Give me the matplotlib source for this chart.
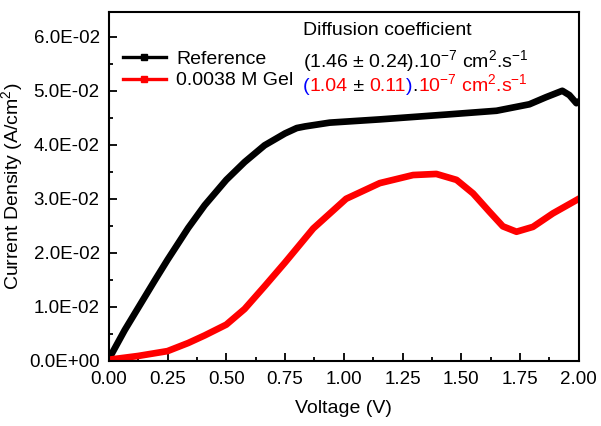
import matplotlib
matplotlib.use("Agg")
import matplotlib.pyplot as plt
from matplotlib.lines import Line2D
from matplotlib.ticker import MultipleLocator, FuncFormatter
from matplotlib.offsetbox import TextArea, HPacker, AnchoredOffsetbox

plt.rcParams['font.family'] = ['Liberation Sans', 'DejaVu Sans']
plt.rcParams['mathtext.fontset'] = 'custom'
plt.rcParams['mathtext.rm'] = 'Liberation Sans'
plt.rcParams['mathtext.it'] = 'Liberation Sans:italic'
plt.rcParams['mathtext.bf'] = 'Liberation Sans:bold'

# reference electrolyte
ref_v = [0, 0.068, 0.125, 0.196, 0.25, 0.338, 0.408, 0.5, 0.578, 0.663,
         0.75, 0.80, 0.835, 0.94, 1.153, 1.437, 1.65, 1.79, 1.86, 1.93,
         1.96, 1.99, 2.0]
ref_j = [0.0003, 0.0057, 0.0098, 0.0149, 0.0187, 0.0246, 0.0288, 0.0335,
         0.0368, 0.0399, 0.0421, 0.0431, 0.0434, 0.0441, 0.0447, 0.0456,
         0.0463, 0.0475, 0.0488, 0.0500, 0.0492, 0.0477, 0.0480]

# 0.0038 M gel
gel_v = [0, 0.125, 0.25, 0.338, 0.408, 0.5, 0.578, 0.663, 0.75, 0.87,
         1.01, 1.153, 1.295, 1.394, 1.48, 1.55, 1.62, 1.677, 1.735, 1.805,
         1.89, 2.0]
gel_j = [0.0002, 0.0009, 0.0018, 0.0033, 0.0047, 0.0067, 0.0096, 0.0138,
         0.0182, 0.0245, 0.0300, 0.0329, 0.0344, 0.0346, 0.0335, 0.0310,
         0.0276, 0.0249, 0.0239, 0.0248, 0.0273, 0.0300]

labels = ["Reference", "0.0038 M Gel"]
colors = ['black', 'red']

fig = plt.figure(figsize=(6.01, 4.26), dpi=100)
ax = fig.add_axes([0.181, 0.153, 0.782, 0.819])

ax.plot(ref_v, ref_j, color=colors[0], lw=4.8, solid_joinstyle='round')
ax.plot(gel_v, gel_j, color=colors[1], lw=4.8, solid_joinstyle='round')

ax.set_xlim(0, 2.0)
ax.set_ylim(0, 0.0646)
ax.xaxis.set_major_locator(MultipleLocator(0.25))
ax.xaxis.set_minor_locator(MultipleLocator(0.125))
ax.yaxis.set_major_locator(MultipleLocator(0.01))
ax.yaxis.set_minor_locator(MultipleLocator(0.005))
ax.xaxis.set_major_formatter(FuncFormatter(lambda v, p: '%.2f' % v))
ax.yaxis.set_major_formatter(FuncFormatter(lambda v, p: '%.1E' % v))
ax.tick_params(which='both', direction='in', top=False, right=False,
               labelsize=13.5, width=1.3)
ax.tick_params(axis='x', pad=7)
ax.tick_params(axis='y', pad=6.5)
ax.tick_params(which='major', length=5.5)
ax.tick_params(which='minor', length=3)
for s in ax.spines.values():
    s.set_linewidth(1.5)

ax.set_xlabel("Voltage (V)", fontsize=14, labelpad=9)
ax.set_ylabel("Current Density (A/cm$^2$)", fontsize=14, labelpad=3)

handles = [Line2D([], [], color=c, lw=2.4, marker='s', ms=5) for c in colors]
ax.legend(handles, labels, loc='upper left', bbox_to_anchor=(0.03, 0.89),
          frameon=False, fontsize=14, handlelength=2.2, handletextpad=0.55,
          numpoints=1, labelspacing=0.2, borderpad=0, borderaxespad=0)

ax.text(0.413, 0.948, "Diffusion coefficient", transform=ax.transAxes,
        fontsize=14, va='center')
ax.text(0.413, 0.858, "(1.46 ± 0.24).10$^{-7}$ cm$^2$.s$^{-1}$",
        transform=ax.transAxes, fontsize=14, va='center')

pieces = [("(", 'blue'), ("1.04", 'red'), (" ± ", 'black'), ("0.11", 'red'),
          (")", 'blue'), (".", 'black'),
          ("10$^{-7}$ cm$^2$.s$^{-1}$", 'red')]
boxes = [TextArea(t, textprops=dict(color=c, fontsize=14)) for t, c in pieces]
row = HPacker(children=boxes, align='baseline', pad=0, sep=0)
anch = AnchoredOffsetbox(loc='center left', child=row, pad=0, frameon=False,
                         bbox_to_anchor=(0.413, 0.792),
                         bbox_transform=ax.transAxes, borderpad=0)
ax.add_artist(anch)

fig.savefig("out.png", dpi=100)
